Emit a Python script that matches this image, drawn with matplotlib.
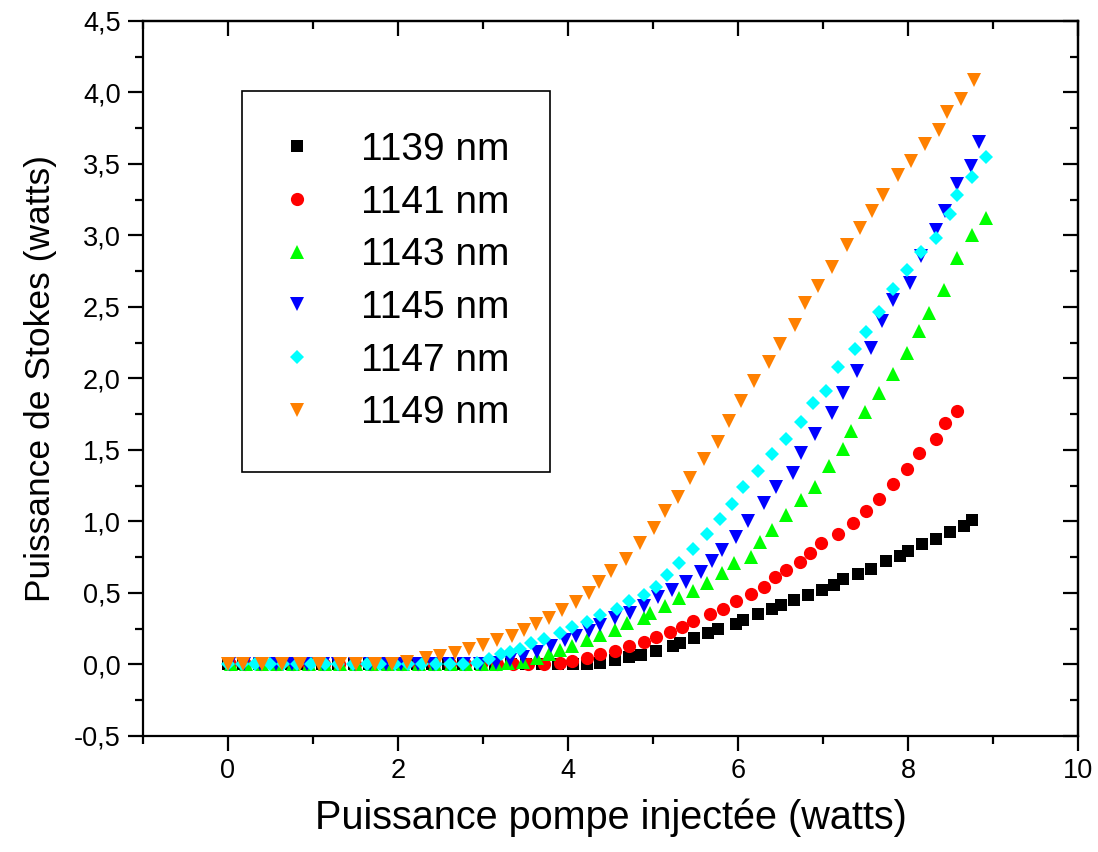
import numpy as np
import matplotlib.pyplot as plt
from matplotlib.ticker import MultipleLocator, FuncFormatter

plt.rcParams['font.family'] = ['Liberation Sans', 'DejaVu Sans']

# 1139 nm
x1139 = [0.00, 0.18, 0.37, 0.55, 0.74, 0.92, 1.11, 1.29, 1.48, 1.66, 1.85, 2.03, 2.22, 2.40, 2.59, 2.77,
         2.96, 3.14, 3.33, 3.51, 3.70, 3.88, 4.06, 4.22, 4.38, 4.55, 4.72, 4.86, 5.03, 5.23, 5.32, 5.48,
         5.65, 5.76, 5.98, 6.06, 6.24, 6.40, 6.51, 6.66, 6.82, 6.99, 7.13, 7.24, 7.41, 7.57, 7.74, 7.91,
         8.00, 8.16, 8.33, 8.49, 8.66, 8.75]
y1139 = [0.0, 0.0, 0.0, 0.0, 0.0, 0.0, 0.0, 0.0, 0.0, 0.0, 0.0, 0.0, 0.0, 0.0, 0.0, 0.0,
         0.0, 0.0, 0.0, 0.0, 0.0, 0.0, 0.0, 0.003, 0.013, 0.03, 0.055, 0.066, 0.097, 0.13, 0.15, 0.185,
         0.22, 0.245, 0.28, 0.31, 0.35, 0.385, 0.416, 0.45, 0.486, 0.52, 0.556, 0.596, 0.633, 0.668, 0.72, 0.76,
         0.796, 0.84, 0.88, 0.925, 0.97, 1.01]

# 1141 nm
x1141 = [0.02, 0.20, 0.39, 0.57, 0.76, 0.94, 1.13, 1.31, 1.50, 1.68, 1.87, 2.05, 2.24, 2.42, 2.61, 2.79,
         2.98, 3.16, 3.35, 3.53, 3.72, 3.91, 4.05, 4.22, 4.38, 4.55, 4.72, 4.89, 5.03, 5.20, 5.34, 5.47,
         5.67, 5.82, 5.98, 6.15, 6.31, 6.43, 6.57, 6.73, 6.85, 6.98, 7.18, 7.35, 7.51, 7.66, 7.82, 7.99,
         8.13, 8.33, 8.44, 8.58]
y1141 = [0.0, 0.0, 0.0, 0.0, 0.0, 0.0, 0.0, 0.0, 0.0, 0.0, 0.0, 0.0, 0.0, 0.0, 0.0, 0.0,
         0.0, 0.0, 0.0, 0.002, 0.004, 0.008, 0.027, 0.045, 0.071, 0.097, 0.13, 0.155, 0.195, 0.225, 0.265, 0.306,
         0.353, 0.386, 0.446, 0.49, 0.544, 0.61, 0.66, 0.717, 0.778, 0.848, 0.91, 0.987, 1.07, 1.16, 1.26, 1.367,
         1.48, 1.575, 1.687, 1.77]

# 1143 nm
x1143 = [0.03, 0.21, 0.40, 0.58, 0.77, 0.95, 1.14, 1.32, 1.51, 1.69, 1.88, 2.06, 2.25, 2.43, 2.62, 2.80,
         2.99, 3.15, 3.30, 3.47, 3.63, 3.78, 3.91, 4.05, 4.22, 4.38, 4.55, 4.69, 4.89, 4.96, 5.14, 5.31,
         5.47, 5.64, 5.81, 5.95, 6.15, 6.26, 6.40, 6.57, 6.74, 6.91, 7.07, 7.24, 7.33, 7.49, 7.66, 7.82,
         7.99, 8.13, 8.25, 8.42, 8.58, 8.75, 8.92]
y1143 = [0.0, 0.0, 0.0, 0.0, 0.0, 0.0, 0.0, 0.0, 0.0, 0.0, 0.0, 0.0, 0.0, 0.0, 0.0, 0.0,
         0.0, 0.005, 0.01, 0.02, 0.043, 0.07, 0.10, 0.13, 0.17, 0.206, 0.24, 0.288, 0.323, 0.362, 0.41, 0.467,
         0.514, 0.572, 0.638, 0.708, 0.754, 0.859, 0.94, 1.045, 1.15, 1.24, 1.388, 1.505, 1.635, 1.768, 1.90, 2.03,
         2.18, 2.33, 2.46, 2.62, 2.845, 3.00, 3.12]

# 1145 nm
x1145 = [0.01, 0.19, 0.38, 0.56, 0.75, 0.93, 1.12, 1.30, 1.49, 1.67, 1.86, 2.04, 2.23, 2.41, 2.60, 2.78,
         2.97, 3.15, 3.32, 3.47, 3.64, 3.80, 3.96, 4.10, 4.25, 4.38, 4.55, 4.73, 4.89, 5.06, 5.22, 5.39,
         5.56, 5.69, 5.81, 5.98, 6.12, 6.31, 6.45, 6.65, 6.74, 6.91, 7.10, 7.24, 7.40, 7.57, 7.69, 7.82,
         8.02, 8.15, 8.33, 8.44, 8.58, 8.74, 8.84]
y1145 = [0.0, 0.0, 0.0, 0.0, 0.0, 0.0, 0.0, 0.0, 0.0, 0.0, 0.0, 0.0, 0.0, 0.0, 0.0, 0.0,
         0.0, 0.01, 0.03, 0.055, 0.09, 0.13, 0.17, 0.20, 0.236, 0.276, 0.323, 0.362, 0.41, 0.47, 0.52, 0.58,
         0.65, 0.72, 0.80, 0.894, 1.005, 1.127, 1.243, 1.34, 1.477, 1.61, 1.756, 1.897, 2.055, 2.21, 2.40, 2.55,
         2.666, 2.857, 3.04, 3.17, 3.36, 3.486, 3.656]

# 1147 nm
x1147 = [0.00, 0.16, 0.32, 0.49, 0.65, 0.81, 0.98, 1.14, 1.30, 1.47, 1.63, 1.79, 1.96, 2.12, 2.28, 2.45,
         2.61, 2.77, 2.93, 3.07, 3.21, 3.32, 3.44, 3.57, 3.72, 3.91, 4.05, 4.22, 4.38, 4.58, 4.72, 4.89,
         5.04, 5.17, 5.31, 5.47, 5.64, 5.79, 5.93, 6.06, 6.24, 6.40, 6.57, 6.74, 6.88, 7.04, 7.18, 7.38,
         7.51, 7.66, 7.82, 7.99, 8.15, 8.33, 8.49, 8.58, 8.75, 8.92]
y1147 = [0.0, 0.0, 0.0, 0.0, 0.0, 0.0, 0.0, 0.0, 0.0, 0.0, 0.0, 0.0, 0.0, 0.0, 0.0, 0.0,
         0.0, 0.0, 0.008, 0.036, 0.073, 0.09, 0.106, 0.148, 0.176, 0.218, 0.264, 0.30, 0.346, 0.386, 0.444, 0.486,
         0.544, 0.626, 0.708, 0.808, 0.91, 1.017, 1.12, 1.24, 1.355, 1.47, 1.58, 1.696, 1.83, 1.915, 2.078, 2.204,
         2.327, 2.467, 2.624, 2.76, 2.887, 2.985, 3.15, 3.283, 3.41, 3.55]

# 1149 nm
x1149 = [0.00, 0.18, 0.40, 0.63, 0.85, 1.07, 1.32, 1.51, 1.73, 1.93, 2.11, 2.33, 2.50, 2.67, 2.84, 3.00,
         3.17, 3.34, 3.48, 3.62, 3.78, 3.93, 4.09, 4.25, 4.37, 4.51, 4.68, 4.85, 5.01, 5.14, 5.30, 5.44,
         5.60, 5.76, 5.89, 6.03, 6.19, 6.36, 6.49, 6.67, 6.79, 6.94, 7.11, 7.28, 7.44, 7.58, 7.70, 7.88,
         8.04, 8.20, 8.36, 8.46, 8.62, 8.78]
y1149 = [0.0, 0.0, 0.0, 0.0, 0.0, 0.0, 0.0, 0.0, 0.0, 0.003, 0.02, 0.043, 0.06, 0.083, 0.106, 0.136,
         0.171, 0.20, 0.24, 0.283, 0.327, 0.38, 0.44, 0.50, 0.58, 0.655, 0.738, 0.848, 0.952, 1.073, 1.173, 1.306,
         1.437, 1.558, 1.70, 1.845, 1.98, 2.113, 2.24, 2.374, 2.526, 2.647, 2.777, 2.934, 3.05, 3.17, 3.28, 3.42,
         3.52, 3.64, 3.74, 3.86, 3.955, 4.09]

series = [
    (x1139, y1139, "1139 nm", "#000000", "s", 8.5),
    (x1141, y1141, "1141 nm", "#ff0000", "o", 9.5),
    (x1143, y1143, "1143 nm", "#00ff00", "^", 10),
    (x1145, y1145, "1145 nm", "#0000ff", "v", 10),
    (x1147, y1147, "1147 nm", "#00ffff", "D", 7),
    (x1149, y1149, "1149 nm", "#ff8000", "v", 10),
]

fig = plt.figure(figsize=(10.98, 8.52), dpi=100)
ax = fig.add_axes([0.1302, 0.1362, 0.8516, 0.8392])

for x, y, lab, col, mk, ms in series:
    ax.plot(x, y, ls="none", marker=mk, ms=ms, color=col, markeredgewidth=0, label=lab)

ax.set_xlim(-1, 10)
ax.set_ylim(-0.5, 4.5)
ax.xaxis.set_major_locator(MultipleLocator(2))
ax.xaxis.set_minor_locator(MultipleLocator(1))
ax.yaxis.set_major_locator(MultipleLocator(0.5))
ax.yaxis.set_minor_locator(MultipleLocator(0.25))
ax.yaxis.set_major_formatter(FuncFormatter(lambda v, p: f"{v:.1f}".replace(".", ",")))
ax.xaxis.set_major_formatter(FuncFormatter(lambda v, p: f"{v:.0f}"))

for s in ax.spines.values():
    s.set_linewidth(1.6)
ax.tick_params(which="both", direction="out", width=1.6, labelsize=19.5, pad=5)
ax.tick_params(which="major", length=11)
ax.tick_params(which="minor", length=6)

# inward ticks on top and right, no labels
top = ax.secondary_xaxis("top")
top.xaxis.set_major_locator(MultipleLocator(2))
top.xaxis.set_minor_locator(MultipleLocator(1))
top.tick_params(which="both", direction="in", width=1.6, labeltop=False)
top.tick_params(which="major", length=11)
top.tick_params(which="minor", length=6)
right = ax.secondary_yaxis("right")
right.yaxis.set_major_locator(MultipleLocator(0.5))
right.yaxis.set_minor_locator(MultipleLocator(0.25))
right.tick_params(which="both", direction="in", width=1.6, labelright=False)
right.tick_params(which="major", length=11)
right.tick_params(which="minor", length=6)
for sec in (top, right):
    for s in sec.spines.values():
        s.set_linewidth(1.6)

ax.set_xlabel("Puissance pompe injectée (watts)", fontsize=28.5, labelpad=10)
ax.set_ylabel("Puissance de Stokes (watts)", fontsize=25.5, labelpad=12)

leg = ax.legend(loc="upper left", bbox_to_anchor=(0.106, 0.902), borderaxespad=0,
                fontsize=28, numpoints=1, fancybox=False, framealpha=1,
                borderpad=1.05, handlelength=0.7, handletextpad=1.3, labelspacing=0.43,
                markerscale=1.0)
leg.get_frame().set_edgecolor("black")
leg.get_frame().set_linewidth(1.2)

plt.savefig("out.png", dpi=100)
